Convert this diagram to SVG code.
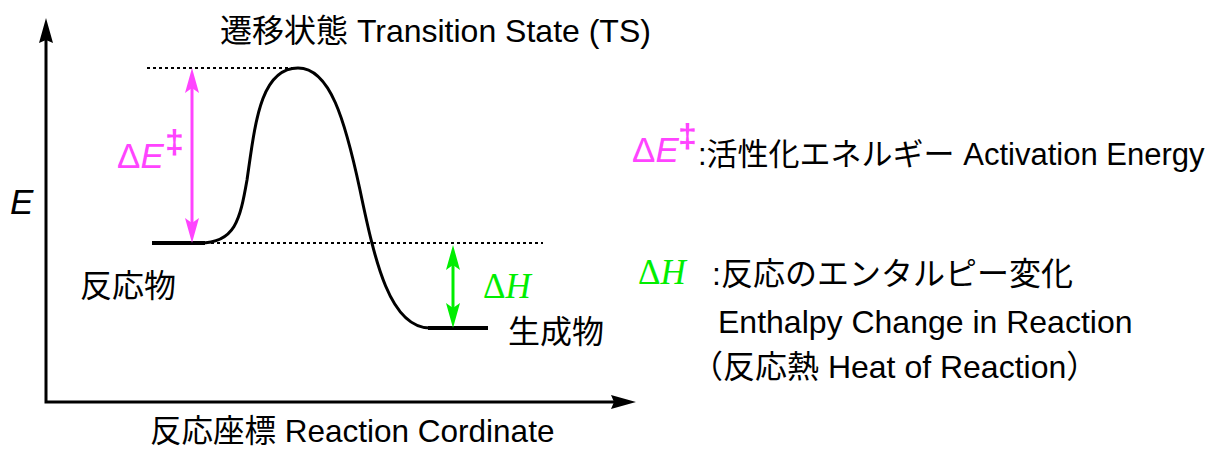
<svg xmlns="http://www.w3.org/2000/svg" width="1215" height="450" viewBox="0 0 1215 450">
  <style>
    .t { font-family: "Liberation Sans", "Noto Sans CJK JP", sans-serif; font-size: 32px; fill: #000; }
    .sym { font-family: "Liberation Sans", sans-serif; font-size: 35px; }
    .serif { font-family: "Liberation Serif", serif; font-size: 35px; }
    .dagger { font-family: "Liberation Sans", sans-serif; font-size: 34px; font-weight: bold; }
    .pink { fill: #ff44ff; }
    .green { fill: #00ee00; }
    .axis { stroke: #000; stroke-width: 3; fill: none; }
    .dot { stroke: #000; stroke-width: 2; stroke-dasharray: 3 3; fill: none; }
    .level { stroke: #000; stroke-width: 4; fill: none; }
    .curve { stroke: #000; stroke-width: 3; fill: none; }
  </style>
  <defs>
    <!-- arrowheads: tip sits 10px past the end of the line -->
    <marker id="headBlack" viewBox="0 0 25 14" markerWidth="25" markerHeight="14" refX="15" refY="7" orient="auto-start-reverse" markerUnits="userSpaceOnUse">
      <path d="M0,0 L25,7 L0,14 L3,7 Z" fill="#000"/>
    </marker>
    <marker id="headPink" viewBox="0 0 25 14" markerWidth="25" markerHeight="14" refX="15" refY="7" orient="auto-start-reverse" markerUnits="userSpaceOnUse">
      <path d="M0,0 L25,7 L0,14 L5,7 Z" fill="#ff44ff"/>
    </marker>
    <marker id="headGreen" viewBox="0 0 25 14" markerWidth="25" markerHeight="14" refX="15" refY="7" orient="auto-start-reverse" markerUnits="userSpaceOnUse">
      <path d="M0,0 L25,7 L0,14 L5,7 Z" fill="#00ee00"/>
    </marker>
  </defs>

  <rect width="1215" height="450" fill="#fff"/>

  <!-- axes -->
  <g id="axes">
    <path class="axis" d="M46,28 L46,402 L626,402" marker-start="url(#headBlack)" marker-end="url(#headBlack)"/>
  </g>

  <!-- reference levels and energy profile -->
  <g id="profile">
    <line class="dot" x1="147" y1="68" x2="298" y2="68"/>
    <line class="dot" x1="205" y1="243" x2="543" y2="243"/>
    <line class="level" x1="152" y1="243" x2="205" y2="243"/>
    <line class="level" x1="428" y1="328" x2="488" y2="328"/>
    <path class="curve" d="M200,243 C235,243 240,220 247,180 C255,125 260,68 298,68 C330,68 345,120 360,190 C375,262 390,328 430,328"/>
  </g>

  <!-- energy difference arrows -->
  <g id="connectors">
    <line x1="192" y1="78" x2="192" y2="233" stroke="#ff44ff" stroke-width="3" marker-start="url(#headPink)" marker-end="url(#headPink)"/>
    <line x1="453" y1="255" x2="453" y2="318" stroke="#00ee00" stroke-width="3" marker-start="url(#headGreen)" marker-end="url(#headGreen)"/>
  </g>

  <g id="axis-labels">
    <text class="sym" x="10" y="214" font-style="italic">E</text>
    <text class="t" x="150" y="442" style="font-size:31.5px">反応座標 Reaction Cordinate</text>
  </g>

  <g id="transition-state">
    <text class="t" x="220" y="42">遷移状態 Transition State (TS)</text>
  </g>

  <g id="reactant">
    <text class="t" x="80" y="297">反応物</text>
  </g>

  <g id="product">
    <text class="t" x="508" y="343">生成物</text>
  </g>

  <g id="label-activation">
    <text class="sym pink" x="117" y="168">Δ<tspan font-style="italic">E</tspan></text>
    <text class="dagger pink" x="165" y="153">‡</text>
  </g>

  <g id="label-enthalpy">
    <text class="serif green" x="483" y="298">Δ<tspan font-style="italic">H</tspan></text>
  </g>

  <g id="legend">
    <text class="sym pink" x="632" y="162">Δ<tspan font-style="italic">E</tspan></text>
    <text class="dagger pink" x="678" y="147">‡</text>
    <text class="t" x="698" y="165" style="font-size:31px">:活性化エネルギー Activation Energy</text>

    <text class="serif green" x="638" y="284">Δ<tspan font-style="italic">H</tspan></text>
    <text class="t" x="712" y="285">:反応のエンタルピー変化</text>
    <text class="t" x="718" y="333">Enthalpy Change in Reaction</text>
    <text class="t" x="691" y="378">（反応熱 Heat of Reaction）</text>
  </g>
</svg>
